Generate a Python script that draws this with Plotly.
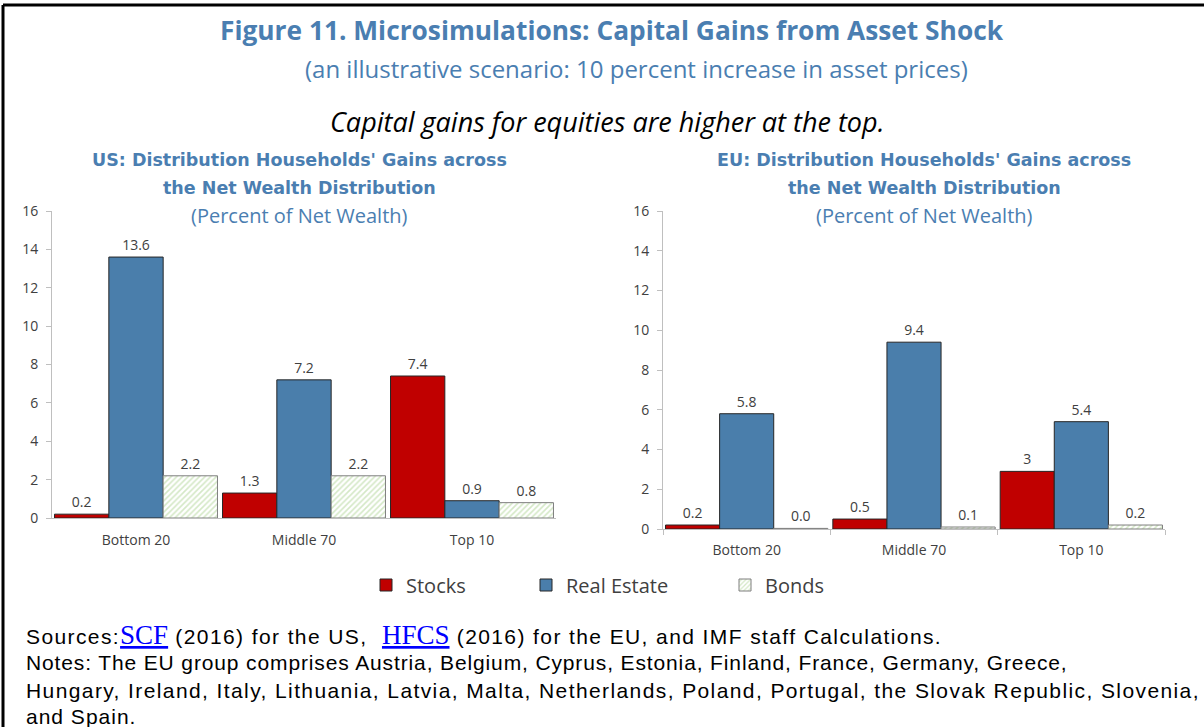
import plotly.graph_objects as go

# ---------------- data ----------------
groups = ["Bottom 20", "Middle 70", "Top 10"]
series_names = ["Stocks", "Real Estate", "Bonds"]

us_stocks = [0.2, 1.3, 7.4]
us_real_estate = [13.6, 7.2, 0.9]
us_bonds = [2.2, 2.2, 0.8]

eu_stocks = [0.2, 0.5, 2.9]
eu_real_estate = [5.8, 9.4, 5.4]
eu_bonds = [0.03, 0.1, 0.2]

us_stock_labels = ["0.2", "1.3", "7.4"]
us_re_labels = ["13.6", "7.2", "0.9"]
us_bond_labels = ["2.2", "2.2", "0.8"]
eu_stock_labels = ["0.2", "0.5", "3"]
eu_re_labels = ["5.8", "9.4", "5.4"]
eu_bond_labels = ["0.0", "0.1", "0.2"]

y_ticks = [0, 2, 4, 6, 8, 10, 12, 14, 16]

# ---------------- style ----------------
W, H = 1204, 727
BLUE_T = "#4a7eb1"
C_STOCK = "#c00000"
C_RE = "#4a7eab"
C_BOND_FG = "#a9d18e"
TXT = "#404040"
AX = "#bfbfbf"
FONT = "Open Sans"


def px_x(x):
    return x / W


def px_y(y):
    return 1 - y / H


fig = go.Figure()


def add_panel(xa, ya, stocks, re, bonds, sl, rl, bl, show):
    common = dict(xaxis=xa, yaxis=ya, textposition="outside", cliponaxis=False,
                  textfont=dict(family=FONT, size=14, color=TXT))
    fig.add_trace(go.Bar(x=groups, y=stocks, name=series_names[0], text=sl,
                         marker=dict(color=C_STOCK, line=dict(color="#262626", width=1)),
                         showlegend=show, legend="legend", **common))
    fig.add_trace(go.Bar(x=groups, y=re, name=series_names[1], text=rl,
                         marker=dict(color=C_RE, line=dict(color="#262626", width=1)),
                         showlegend=show, legend="legend2", **common))
    fig.add_trace(go.Bar(x=groups, y=bonds, name=series_names[2], text=bl,
                         marker=dict(color="white", line=dict(color="#7f7f7f", width=1),
                                     pattern=dict(shape="/", fgcolor=C_BOND_FG, bgcolor="white",
                                                  size=4, solidity=0.4)),
                         showlegend=show, legend="legend3", **common))


add_panel("x", "y", us_stocks, us_real_estate, us_bonds,
          us_stock_labels, us_re_labels, us_bond_labels, True)
add_panel("x2", "y2", eu_stocks, eu_real_estate, eu_bonds,
          eu_stock_labels, eu_re_labels, eu_bond_labels, False)

yax = dict(range=[0, 16], tickvals=y_ticks, showgrid=False, zeroline=False,
           showline=True, linecolor=AX, linewidth=1, ticks="outside", ticklen=5,
           tickcolor=AX, tickfont=dict(family=FONT, size=14, color=TXT), fixedrange=True,
           automargin=False, ticklabelstandoff=5)
xax = dict(showgrid=False, zeroline=False, showline=True, linecolor=AX, linewidth=1,
           tickfont=dict(family=FONT, size=14, color=TXT), fixedrange=True, automargin=False)


def leg(xpx):
    return dict(orientation="h", x=px_x(xpx), xanchor="left", y=px_y(585), yanchor="middle",
                font=dict(family=FONT, size=20, color=TXT), itemclick=False,
                itemdoubleclick=False, bgcolor="rgba(0,0,0,0)", borderwidth=0)


fig.update_layout(
    width=W, height=H,
    margin=dict(l=0, r=0, t=0, b=0, autoexpand=False),
    paper_bgcolor="white", plot_bgcolor="white",
    barmode="group", bargap=0.03, bargroupgap=0,
    xaxis=dict(domain=[px_x(52), px_x(556)], anchor="y", ticks="", ticklabelstandoff=9, **xax),
    yaxis=dict(domain=[px_y(518), px_y(211)], anchor="x", **yax),
    xaxis2=dict(domain=[px_x(663), px_x(1165)], anchor="y2", ticks="outside", ticklen=5,
                tickcolor=AX, tickson="boundaries", ticklabelstandoff=8, **xax),
    yaxis2=dict(domain=[px_y(529), px_y(211)], anchor="x2", **yax),
    legend=leg(366),
    legend2=leg(526),
    legend3=leg(725),
    showlegend=True,
)

ann = []


def text(x, y, s, size, color="black", family=FONT, xanchor="center"):
    ann.append(dict(x=px_x(x), y=px_y(y), xref="paper", yref="paper", text=s,
                    showarrow=False, xanchor=xanchor, yanchor="middle",
                    font=dict(family=family, size=size, color=color)))


text(612, 30, "<b>Figure 11. Microsimulations: Capital Gains from Asset Shock</b>", 26.3, BLUE_T)
text(636, 68, "(an illustrative scenario: 10 percent increase in asset prices)", 24, BLUE_T)
text(607, 122, "<i>Capital gains for equities are higher at the top.</i>", 27, "black")

for cx, lab in [(299, "US"), (924, "EU")]:
    text(cx, 160, f"<b>{lab}: Distribution Households' Gains across</b>", 17.5, BLUE_T, "DejaVu Sans")
    text(cx, 188, "<b>the Net Wealth Distribution</b>", 17.5, BLUE_T, "DejaVu Sans")
    text(cx, 216, "(Percent of Net Wealth)", 20, BLUE_T)

FN = "Liberation Sans"


def sp(s, ls):
    return f"<span style='letter-spacing:{ls}px'>{s}</span>"


link = "<span style='font-family:Liberation Serif;font-size:27px;color:#0000ff'><u>{}</u></span>"
text(24, 635, sp("Sources:", 1.4) + link.format("SCF") + sp(" (2016) for the US,  ", 1.4) + link.format("HFCS")
     + sp(" (2016) for the EU, and IMF staff Calculations.", 1.4), 21, "black", FN, "left")
text(24, 662, sp("Notes: The EU group comprises Austria, Belgium, Cyprus, Estonia, Finland, France, Germany, Greece,", 0.87),
     21, "black", FN, "left")
text(24, 690, sp("Hungary, Ireland, Italy, Lithuania, Latvia, Malta, Netherlands, Poland, Portugal, the Slovak Republic, Slovenia,", 1.4),
     21, "black", FN, "left")
text(24, 716, sp("and Spain.", 1.0), 21, "black", FN, "left")

fig.update_layout(annotations=ann)

# frame lines (top and left)
fig.add_shape(type="line", xref="paper", yref="paper", x0=px_x(3), x1=1, y0=px_y(5), y1=px_y(5),
              line=dict(color="black", width=3))
fig.add_shape(type="line", xref="paper", yref="paper", x0=px_x(3), x1=px_x(3), y0=px_y(5), y1=0,
              line=dict(color="black", width=3))

post = ("var d=document.getElementById('{plot_id}');"
        "d.style.position='fixed';d.style.left='0px';d.style.top='0px';"
        "document.body.style.margin='0';document.body.style.padding='0';"
        "document.body.style.overflow='hidden';document.documentElement.style.overflow='hidden';")

fig.write_html("out.html", config={"displayModeBar": False},
               post_script=post)
